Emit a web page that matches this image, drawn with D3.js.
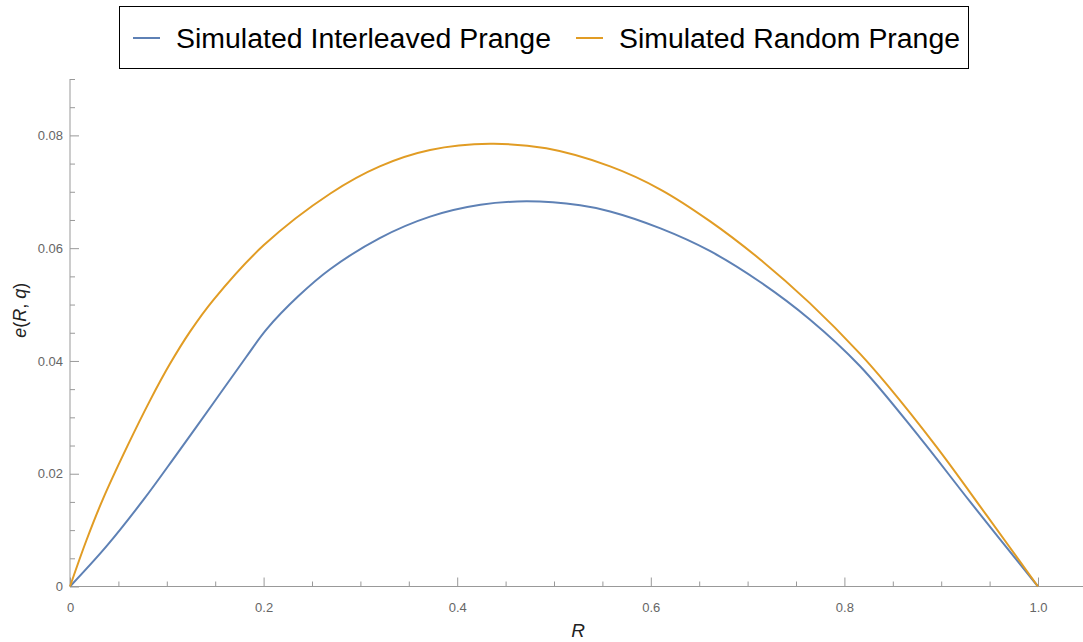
<!DOCTYPE html>
<html>
<head>
<meta charset="utf-8">
<script src="https://cdn.jsdelivr.net/npm/d3@7"></script>
<style>
  body { margin: 0; background: #fff; }
  svg { display: block; font-family: "Liberation Sans", Arial, sans-serif; }
</style>
</head>
<body>
<svg id="chart" width="1083" height="642"></svg>
<script>
// values
const interleavedR = [0, 0.038, 0.076, 0.110, 0.148, 0.182, 0.203, 0.236, 0.269, 0.320, 0.372, 0.424, 0.472, 0.527, 0.558, 0.610, 0.661, 0.713, 0.764, 0.816, 0.878, 0.930, 1.0]
const interleavedE = [0, 0.0072, 0.0154, 0.0234, 0.0325, 0.0407, 0.0456, 0.0515, 0.0563, 0.0618, 0.0656, 0.0677, 0.0683, 0.0676, 0.0665, 0.0635, 0.0595, 0.0540, 0.0474, 0.0391, 0.0264, 0.0150, 0]
const randomR = [0, 0.017, 0.034, 0.059, 0.083, 0.103, 0.124, 0.148, 0.200, 0.269, 0.320, 0.372, 0.434, 0.492, 0.558, 0.610, 0.661, 0.713, 0.764, 0.816, 0.844, 0.895, 0.947, 1.0]
const randomE = [0, 0.0082, 0.0155, 0.0248, 0.0331, 0.0394, 0.0452, 0.0508, 0.0605, 0.0697, 0.0745, 0.0774, 0.0785, 0.0777, 0.0745, 0.0704, 0.0648, 0.0580, 0.0503, 0.0413, 0.0358, 0.0248, 0.0126, 0]
const seriesNames = ["Simulated Interleaved Prange", "Simulated Random Prange"]
const seriesColors = ["#5E81B5", "#E19C24"]
const xMajor = [0, 0.2, 0.4, 0.6, 0.8, 1.0]
const xMinor = [0.05, 0.1, 0.15, 0.25, 0.3, 0.35, 0.45, 0.5, 0.55, 0.65, 0.7, 0.75, 0.85, 0.9, 0.95]
const yMajor = [0, 0.02, 0.04, 0.06, 0.08]
const yMinor = [0.005, 0.01, 0.015, 0.025, 0.03, 0.035, 0.045, 0.05, 0.055, 0.065, 0.07, 0.075, 0.085, 0.09]

const svg = d3.select("#chart")
const x = d3.scaleLinear().domain([0, 1]).range([70, 1038])
const y = d3.scaleLinear().domain([0, 0.09]).range([586.5, 79])

const axisColor = "#999"
const labelColor = "#666"

function styleAxis(g) {
    g.select(".domain").remove()
    g.selectAll("line").attr("stroke", axisColor)
    g.selectAll("text").attr("fill", labelColor).attr("font-size", 13)
}

// axis lines
svg.append("line").attr("x1", 70).attr("x2", 1083).attr("y1", y(0)).attr("y2", y(0)).attr("stroke", axisColor)
svg.append("line").attr("x1", x(0)).attr("x2", x(0)).attr("y1", y(0)).attr("y2", y(0.09)).attr("stroke", axisColor)

// x ticks, pointing into the plot
svg.append("g").attr("transform", `translate(0,${y(0)})`)
    .call(d3.axisBottom(x).tickValues(xMinor).tickSize(-5).tickFormat(""))
    .call(styleAxis)
svg.append("g").attr("transform", `translate(0,${y(0)})`)
    .call(d3.axisBottom(x).tickValues(xMajor).tickSize(-9).tickPadding(16)
        .tickFormat(d => d === 0 ? "0" : d3.format(".1f")(d)))
    .call(styleAxis)

// y ticks
svg.append("g").attr("transform", `translate(${x(0)},0)`)
    .call(d3.axisLeft(y).tickValues(yMinor).tickSize(-5).tickFormat(""))
    .call(styleAxis)
svg.append("g").attr("transform", `translate(${x(0)},0)`)
    .call(d3.axisLeft(y).tickValues(yMajor).tickSize(-9).tickPadding(7)
        .tickFormat(d => d === 0 ? "0" : d3.format(".2f")(d)))
    .call(styleAxis)

// axis titles
svg.append("text").attr("x", 578).attr("y", 637).attr("text-anchor", "middle")
    .attr("font-size", 19).attr("font-style", "italic").attr("fill", "#222").text("R")
svg.append("text").attr("transform", `translate(26,${y(0.049)}) rotate(-90)`).attr("text-anchor", "middle")
    .attr("font-size", 18).attr("fill", "#222")
    .html('<tspan font-style="italic">e</tspan>(<tspan font-style="italic">R</tspan>, <tspan font-style="italic">q</tspan>)')

// curves
const series = [
    { r: interleavedR, e: interleavedE },
    { r: randomR, e: randomE }
]
const line = d3.line().x(d => x(d[0])).y(d => y(d[1])).curve(d3.curveCatmullRom.alpha(0.5))
series.forEach((s, i) => {
    svg.append("path")
        .datum(d3.zip(s.r, s.e))
        .attr("fill", "none")
        .attr("stroke", seriesColors[i])
        .attr("stroke-width", 2)
        .attr("d", line)
})

// legend
const legend = svg.append("g")
legend.append("rect").attr("x", 119.5).attr("y", 6.5).attr("width", 849).attr("height", 62)
    .attr("fill", "#fff").attr("stroke", "#000").attr("stroke-width", 1)
const legendX = [133, 576]
const legendTextLen = [375, 341]
seriesNames.forEach((name, i) => {
    legend.append("line").attr("x1", legendX[i]).attr("x2", legendX[i] + 27)
        .attr("y1", 38).attr("y2", 38).attr("stroke", seriesColors[i]).attr("stroke-width", 2)
    legend.append("text").attr("x", legendX[i] + 43).attr("y", 48)
        .attr("font-size", 27).attr("fill", "#000")
        .attr("textLength", legendTextLen[i]).attr("lengthAdjust", "spacingAndGlyphs")
        .text(name)
})
</script>
</body>
</html>
